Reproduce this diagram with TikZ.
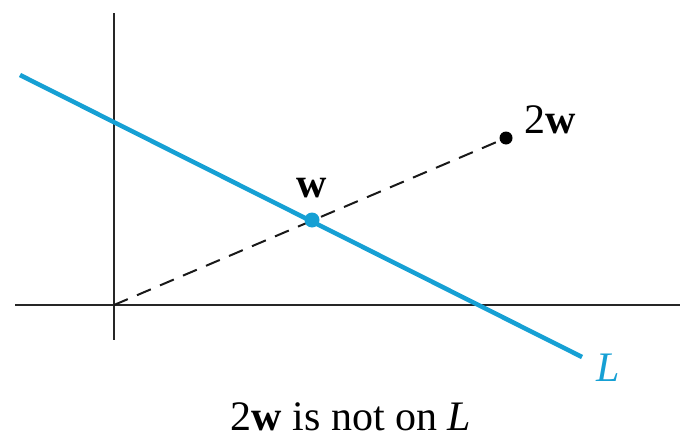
\documentclass[tikz,border=0pt]{standalone}
\usepackage{fontspec}
\setmainfont{Liberation Serif}
\definecolor{lblue}{RGB}{22,160,212}
\begin{document}
\begin{tikzpicture}[x=1pt,y=-1pt,
  axis/.style={line width=1.8pt,black!85},
  lline/.style={line width=4.5pt,lblue},
  dashline/.style={line width=2pt,black!90,dash pattern=on 15pt off 10pt},
  lbl/.style={font=\fontsize{42}{48}\selectfont,inner sep=0pt}]
\useasboundingbox (0,0) rectangle (680,439);
\coordinate (O) at (114,305);
\coordinate (ytop) at (114,13);
\coordinate (ybot) at (114,340);
\coordinate (xl) at (15,305);
\coordinate (xr) at (680,305);
\coordinate (La) at (20,75);
\coordinate (Lb) at (582,357);
\coordinate (W) at (312,220);
\coordinate (W2) at (506,138);
\draw[axis] (ytop) -- (ybot);
\draw[axis] (xl) -- (xr);
\draw[dashline] (O) -- (W2);
\draw[lline] (La) -- (Lb);
\fill[lblue] (W) circle (7.5);
\fill[black] (W2) circle (6.5);
\node[lbl] (wl) at (312,188) {\textbf{w}};
\node[lbl] (w2l) at (550,120) {2\textbf{w}};
\node[lbl,lblue] (Ll) at (608,368) {\textit{L}};
\node[lbl] (cap) at (351,417) {2\textbf{w} is not on \textit{L}};
\end{tikzpicture}
\end{document}
